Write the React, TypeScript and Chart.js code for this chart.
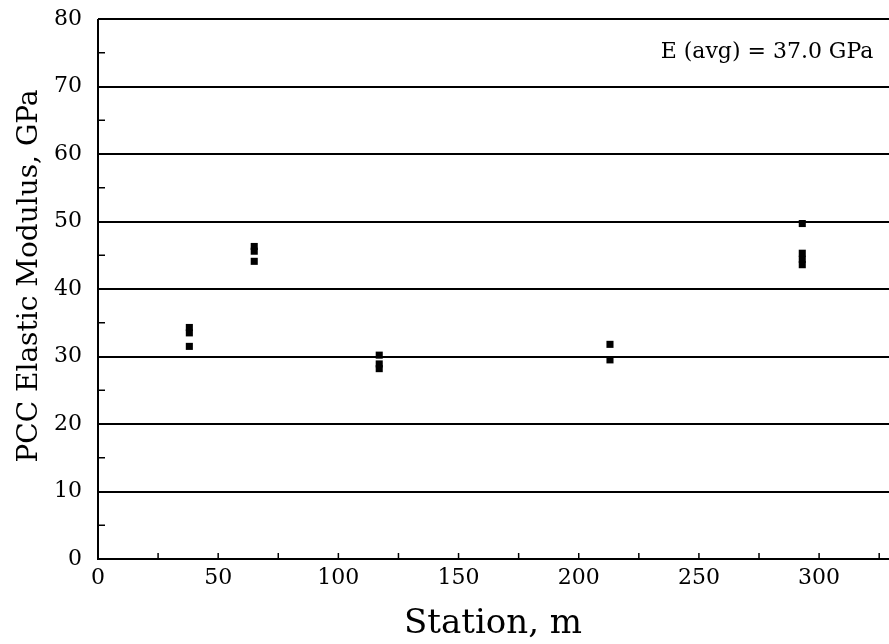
import React, { useEffect, useRef } from "react";
import { Chart, registerables } from "chart.js";

Chart.register(...registerables);

const stations: number[] = [38, 38, 38, 65, 65, 65, 117, 117, 117, 213, 213, 293, 293, 293, 293];
const modulus: number[] = [34.3, 33.5, 31.5, 46.3, 45.6, 44.1, 30.2, 28.9, 28.2, 31.8, 29.5, 49.7, 45.3, 44.4, 43.6];
const xTicks: number[] = [0, 50, 100, 150, 200, 250, 300];
const yTicks: number[] = [0, 10, 20, 30, 40, 50, 60, 70, 80];
const annotation = "E (avg) = 37.0 GPa";
const xTitle = "Station, m";
const yTitle = "PCC Elastic Modulus, GPa";

const FONT = "'DejaVu Serif', 'Liberation Serif', serif";

const extras = {
  id: "extras",
  afterDraw(chart: any) {
    const { ctx, chartArea, scales } = chart;
    const x = scales.x;
    const y = scales.y;
    const W = chart.width;
    ctx.save();
    ctx.strokeStyle = "#000";
    ctx.lineWidth = 2;
    if (chartArea.right < W) {
      for (const v of yTicks) {
        const py = Math.round(y.getPixelForValue(v) + 1) - 1;
        ctx.beginPath();
        ctx.moveTo(chartArea.right - 1, py);
        ctx.lineTo(W, py);
        ctx.stroke();
      }
    }
    ctx.lineWidth = 1.5;
    for (let v = 5; v < 80; v += 10) {
      const py = y.getPixelForValue(v);
      ctx.beginPath();
      ctx.moveTo(chartArea.left, py);
      ctx.lineTo(chartArea.left + 7, py);
      ctx.stroke();
    }
    for (let v = 25; v <= 325; v += 25) {
      const px = x.getPixelForValue(v);
      ctx.beginPath();
      ctx.moveTo(px, chartArea.bottom);
      ctx.lineTo(px, chartArea.bottom - 6);
      ctx.stroke();
    }
    ctx.lineWidth = 2;
    const by = Math.round(chartArea.bottom + 1) - 1;
    ctx.beginPath();
    ctx.moveTo(chartArea.left, chartArea.top);
    ctx.lineTo(chartArea.left, by);
    ctx.lineTo(W, by);
    ctx.stroke();
    ctx.fillStyle = "#000";
    ctx.font = `22px ${FONT}`;
    ctx.textAlign = "center";
    ctx.textBaseline = "middle";
    ctx.fillText(annotation, 767, 52);
    ctx.font = `34px ${FONT}`;
    ctx.fillText(xTitle, 493, 624);
    ctx.translate(30, 276);
    ctx.rotate(-Math.PI / 2);
    ctx.font = `28px ${FONT}`;
    ctx.fillText(yTitle, 0, 0);
    ctx.restore();
  },
};

export default function App() {
  const ref = useRef<HTMLCanvasElement | null>(null);
  useEffect(() => {
    document.body.style.margin = "0";
    const canvas = ref.current;
    if (!canvas) return;
    const chart = new Chart(canvas, {
      type: "scatter",
      data: {
        datasets: [
          {
            data: stations.map((s, i) => ({ x: s, y: modulus[i] })),
            backgroundColor: "#000",
            borderColor: "#000",
            pointStyle: "rect",
            pointRadius: 5,
            borderWidth: 0,
          },
        ],
      },
      options: {
        animation: false,
        responsive: false,
        maintainAspectRatio: false,
        layout: { padding: { top: 19, right: 0, left: 0, bottom: 0 } },
        plugins: { legend: { display: false }, tooltip: { enabled: false } },
        scales: {
          x: {
            type: "linear",
            min: 0,
            max: 327,
            afterFit(scale: any) {
              scale.height = 85;
              scale.paddingLeft = 0;
              scale.paddingRight = 0;
            },
            afterBuildTicks(scale: any) {
              scale.ticks = xTicks.map((v) => ({ value: v }));
            },
            grid: { display: false, drawTicks: false },
            border: { display: false },
            ticks: {
              color: "#000",
              font: { family: FONT, size: 22 },
              padding: 6,
              maxRotation: 0,
            },
          },
          y: {
            type: "linear",
            min: 0,
            max: 80,
            afterFit(scale: any) {
              scale.width = 98;
              scale.paddingTop = 0;
              scale.paddingBottom = 0;
            },
            afterBuildTicks(scale: any) {
              scale.ticks = yTicks.map((v) => ({ value: v }));
            },
            grid: { color: "#000", lineWidth: 2, drawTicks: false },
            border: { display: false },
            ticks: {
              color: "#000",
              font: { family: FONT, size: 22 },
              padding: 16,
            },
          },
        },
      },
      plugins: [extras],
    });
    return () => chart.destroy();
  }, []);
  return (
    <div style={{ width: 889, height: 644, background: "#fff" }}>
      <canvas ref={ref} width={889} height={644} style={{ display: "block" }} />
    </div>
  );
}
